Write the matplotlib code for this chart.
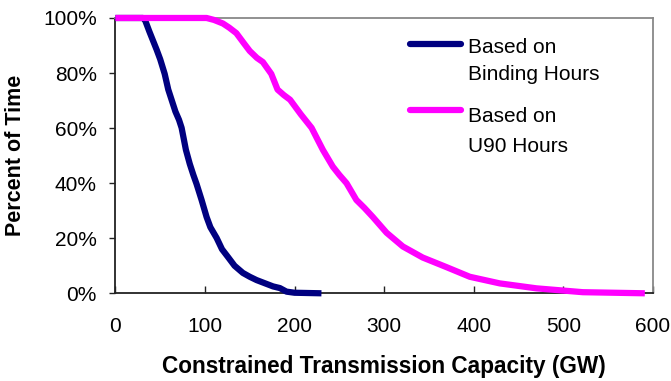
import matplotlib
matplotlib.use("Agg")
import matplotlib.pyplot as plt
from matplotlib.ticker import FuncFormatter

plt.rcParams['font.family'] = ['Liberation Sans', 'DejaVu Sans']

# Duration curve: Based on Binding Hours (GW, percent of time)
binding_gw = [0, 30.7, 33, 38, 46, 50, 55, 59, 62.7, 67, 71, 73.9, 78.7, 83, 87,
              90.6, 96.2, 101.8, 106, 113, 119, 125.6, 133, 142.3, 150, 157.6,
              168, 176, 183.6, 191, 200, 230]
binding_pct = [100, 100, 99.3, 95, 88.5, 85, 79.7, 74, 70.3, 66, 63, 60.1, 52.1, 47,
               43, 39.7, 33.9, 27.7, 24, 20.1, 16, 13.2, 10, 7.4, 6, 4.8,
               3.5, 2.5, 1.9, 0.6, 0.2, 0]

# Duration curve: Based on U90 Hours
u90_gw = [0, 101.8, 110, 120, 127, 135, 143, 150, 158, 164.6, 174, 181, 188, 195,
          207, 219, 231.6, 242.7, 250, 258, 269, 278, 287.4, 302.7, 320.9,
          343, 369.6, 395.6, 429, 470, 521.8, 591]
u90_pct = [100, 100, 99.3, 98, 96.5, 94.5, 91, 88, 85.5, 84, 79.7, 74, 72, 70.3,
           65, 60.1, 52.1, 46, 43, 40, 33.9, 31, 27.7, 22, 17,
           13, 9.5, 6, 3.6, 1.8, 0.4, 0]

series_labels = ['Based on\nBinding Hours', 'Based on\nU90 Hours']
series_colors = ['#000080', '#FF00FF']

fig = plt.figure(figsize=(6.71, 3.81), dpi=100)
ax = fig.add_axes([0.172, 0.2302, 0.801, 0.7226])

ax.plot(binding_gw, binding_pct, color=series_colors[0], lw=4.5,
        solid_capstyle='butt', clip_on=False, zorder=3)
ax.plot(u90_gw, u90_pct, color=series_colors[1], lw=4.5,
        solid_capstyle='butt', clip_on=False, zorder=3)

ax.set_xlim(0, 600)
ax.set_ylim(0, 100)
ax.set_xticks(range(0, 601, 100))
ax.set_yticks(range(0, 101, 20))
ax.yaxis.set_major_formatter(FuncFormatter(lambda v, p: f'{int(v)}%'))

ax.tick_params(axis='x', direction='in', length=5, width=1, pad=17,
               labelsize=15, colors='#222222', labelcolor='black')
ax.tick_params(axis='y', direction='out', length=4, width=1, pad=9.5,
               labelsize=15, colors='#222222', labelcolor='black')

for side in ['left', 'bottom']:
    ax.spines[side].set_color('#222222')
    ax.spines[side].set_linewidth(1.3)
for side in ['top', 'right']:
    ax.spines[side].set_color('#888888')
    ax.spines[side].set_linewidth(1.3)

ax.set_xlabel('Constrained Transmission Capacity (GW)', fontsize=16.3,
              fontweight='bold', labelpad=14)
ax.set_ylabel('Percent of Time', fontsize=15.5, fontweight='bold', labelpad=12)

# legend drawn by hand so the line sits on the first text line
legend_line_y = [0.906, 0.666]
legend_text_y = [(0.873, 0.776), (0.622, 0.513)]
for lab, col, ly, ty in zip(series_labels, series_colors, legend_line_y, legend_text_y):
    ax.plot([0.548, 0.643], [ly, ly], color=col, lw=4.5, transform=ax.transAxes,
            solid_capstyle='round', clip_on=False)
    first, second = lab.split('\n')
    ax.text(0.656, ty[0], first, transform=ax.transAxes, fontsize=15,
            va='baseline', ha='left')
    ax.text(0.656, ty[1], second, transform=ax.transAxes, fontsize=15,
            va='baseline', ha='left')

fig.savefig('out.png', dpi=100)
